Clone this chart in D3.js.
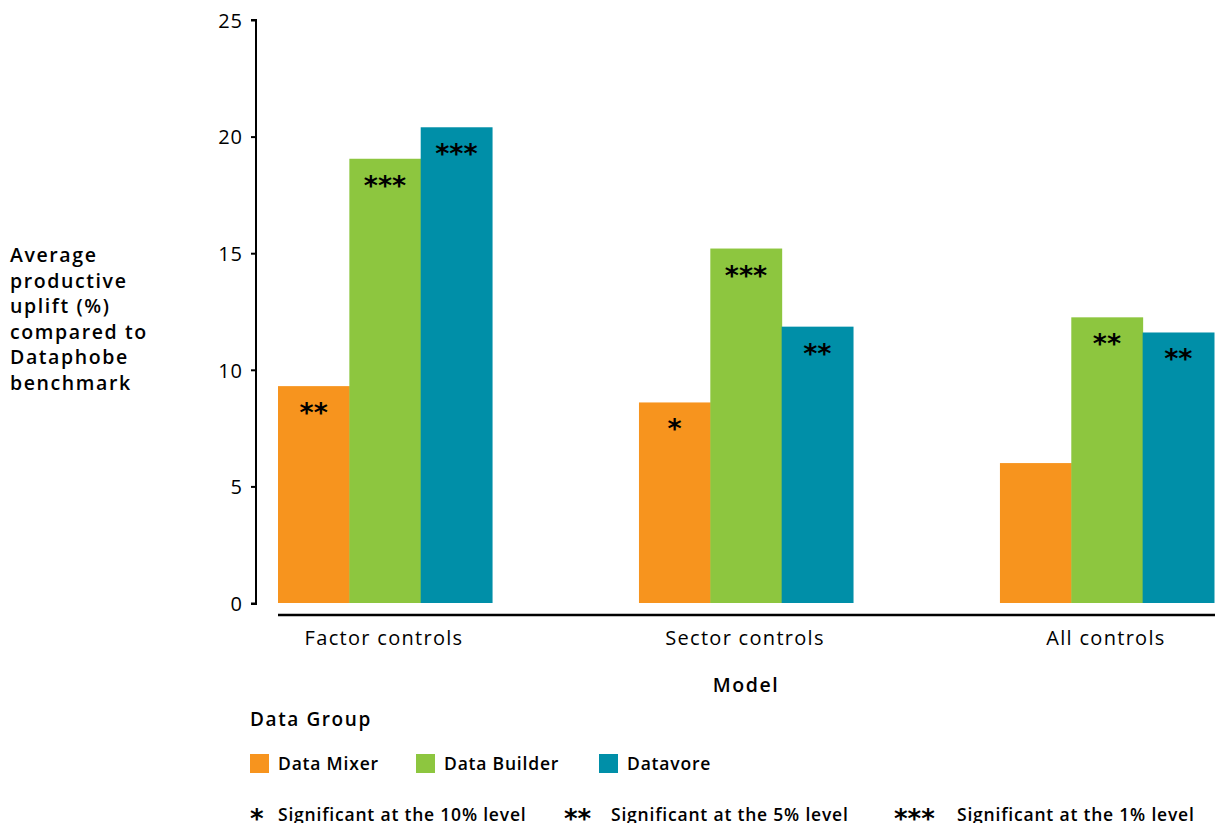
<!DOCTYPE html>
<html>
<head>
<meta charset="utf-8">
<script src="https://cdn.jsdelivr.net/npm/d3@7"></script>
<style>
  html, body { margin: 0; padding: 0; background: #fff; }
  svg { display: block; font-family: "Open Sans", "Noto Sans", sans-serif; }
</style>
</head>
<body>
<svg id="chart" width="1215" height="823"></svg>
<script>
// Model specifications on the x axis
const models = ["Factor controls", "Sector controls", "All controls"];
// Data groups (series)
const groups = ["Data Mixer", "Data Builder", "Datavore"];
const groupColors = ["#F7941E", "#8DC63F", "#008FA8"];
// Average productive uplift (%) per group, one entry per model
const mixerValues = [9.3, 8.6, 6.0];
const builderValues = [19.05, 15.2, 12.25];
const datavoreValues = [20.4, 11.85, 11.6];
// Significance markers per group, one entry per model
const mixerSig = ["**", "*", ""];
const builderSig = ["***", "***", "**"];
const datavoreSig = ["***", "**", "**"];
// Y axis ticks
const yTicks = [0, 5, 10, 15, 20, 25];
// Y axis title lines
const yTitleLines = ["Average", "productive", "uplift (%)", "compared to", "Dataphobe", "benchmark"];
// Significance key
const sigKeys = ["*", "**", "***"];
const sigLabels = ["Significant at the 10% level", "Significant at the 5% level", "Significant at the 1% level"];

const seriesValues = [mixerValues, builderValues, datavoreValues];
const seriesSig = [mixerSig, builderSig, datavoreSig];

const svg = d3.select("#chart");

const x0 = d3.scaleBand().domain(models).range([278, 1214]).paddingInner(0.407).paddingOuter(0);
const x1 = d3.scaleBand().domain(groups).range([0, x0.bandwidth()]).padding(0);
const y = d3.scaleLinear().domain([0, 25]).range([603, 20]);
const color = d3.scaleOrdinal().domain(groups).range(groupColors);

const barData = (m, mi) => groups.map((g, gi) => ({ group: g, value: seriesValues[gi][mi], sig: seriesSig[gi][mi] }));

// Bars
const modelG = svg.selectAll("g.model")
  .data(models)
  .join("g")
  .attr("class", "model")
  .attr("transform", d => `translate(${x0(d)},0)`);

modelG.selectAll("rect")
  .data(barData)
  .join("rect")
  .attr("x", d => x1(d.group))
  .attr("y", d => y(d.value))
  .attr("width", x1.bandwidth() + 0.5)
  .attr("height", d => y(0) - y(d.value))
  .attr("fill", d => color(d.group));

// Significance stars inside the bars
modelG.selectAll("text.sig")
  .data(barData)
  .join("text")
  .attr("class", "sig")
  .attr("x", d => x1(d.group) + x1.bandwidth() / 2)
  .attr("y", d => y(d.value) + 36)
  .attr("text-anchor", "middle")
  .style("font-family", "DejaVu Sans, sans-serif")
  .style("font-weight", "bold")
  .style("font-size", "27px")
  .attr("fill", "#000")
  .text(d => d.sig);

// Y axis
const yAxis = d3.axisLeft(y).tickValues(yTicks).tickSize(5).tickPadding(8).tickFormat(d3.format("d"));
const yAxisG = svg.append("g").attr("transform", "translate(256,0)").call(yAxis);
yAxisG.select(".domain").attr("stroke", "#000").attr("stroke-width", 2).attr("d", `M-5,${y(25)}H0V${y(0) + 1}H-5`);
yAxisG.selectAll(".tick line").attr("stroke", "#000").attr("stroke-width", 2);
yAxisG.selectAll(".tick text")
  .attr("fill", "#000")
  .style("font-family", "Open Sans, sans-serif")
  .style("font-size", "20px")
  .style("letter-spacing", "1px")
  .attr("dy", "0.36em");

// X axis baseline and category labels
const xAxis = d3.axisBottom(x0).tickSize(0).tickPadding(16);
const xAxisG = svg.append("g").attr("transform", "translate(0,615)").call(xAxis);
xAxisG.select(".domain").attr("stroke", "#000").attr("stroke-width", 2.5).attr("d", "M278,0H1215");
xAxisG.selectAll(".tick text")
  .attr("fill", "#000")
  .style("font-family", "Open Sans, sans-serif")
  .style("font-size", "20px")
  .style("letter-spacing", "1.3px")
  .attr("transform", "translate(-1,0)");

// Y axis title
svg.append("text")
  .attr("x", 10)
  .attr("y", 262)
  .style("font-size", "19.5px")
  .style("font-weight", 600)
  .style("letter-spacing", "1.6px")
  .attr("fill", "#000")
  .selectAll("tspan")
  .data(yTitleLines)
  .join("tspan")
  .attr("x", 10)
  .attr("dy", (d, i) => i === 0 ? 0 : 25.6)
  .text(d => d);

// X axis title
svg.append("text")
  .attr("x", 746)
  .attr("y", 692)
  .attr("text-anchor", "middle")
  .style("font-size", "19.5px")
  .style("font-weight", 600)
  .style("letter-spacing", "1.6px")
  .attr("fill", "#000")
  .text("Model");

// Legend
svg.append("text")
  .attr("x", 250)
  .attr("y", 726)
  .style("font-size", "19px")
  .style("font-weight", 600)
  .style("letter-spacing", "1.6px")
  .attr("fill", "#000")
  .text("Data Group");

const legendX = [250, 416, 599];
const legendG = svg.selectAll("g.legend")
  .data(groups)
  .join("g")
  .attr("class", "legend")
  .attr("transform", (d, i) => `translate(${legendX[i]},754)`);
legendG.append("rect")
  .attr("width", 19).attr("height", 19)
  .attr("fill", d => color(d));
legendG.append("text")
  .attr("x", 28).attr("y", 16)
  .style("font-size", "17.5px")
  .style("font-weight", 600)
  .style("letter-spacing", "0.8px")
  .attr("fill", "#000")
  .text(d => d);

// Significance key
const keyX = [250, 564, 894];
const keyTextX = [278, 611, 957];
const keyG = svg.selectAll("g.key")
  .data(sigKeys)
  .join("g")
  .attr("class", "key");
keyG.append("text")
  .attr("x", (d, i) => keyX[i])
  .attr("y", 828)
  .style("font-family", "DejaVu Sans, sans-serif")
  .style("font-weight", "bold")
  .style("font-size", "26px")
  .attr("fill", "#000")
  .text(d => d);
keyG.append("text")
  .attr("x", (d, i) => keyTextX[i])
  .attr("y", 821)
  .style("font-size", "17.5px")
  .style("font-weight", 600)
  .style("letter-spacing", "0.8px")
  .attr("fill", "#000")
  .text((d, i) => sigLabels[i]);
</script>
</body>
</html>
